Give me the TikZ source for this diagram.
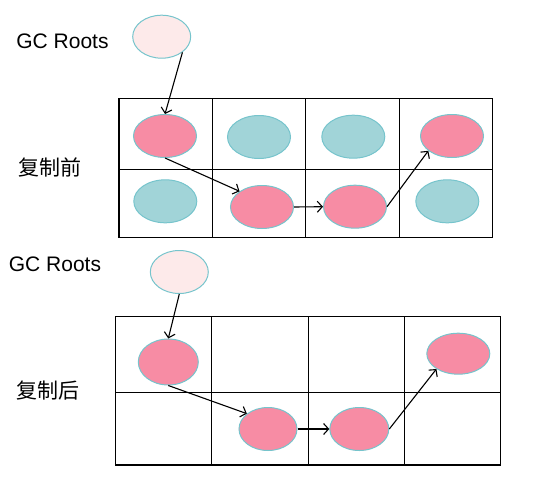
\documentclass[tikz,border=0pt]{standalone}
\usepackage{fontspec}
\setmainfont{Liberation Sans}
\newfontfamily\cjk{Noto Sans CJK SC}
\usetikzlibrary{shapes.geometric,arrows.meta}
\definecolor{livepink}{RGB}{247,140,164}
\definecolor{deadteal}{RGB}{161,212,216}
\definecolor{rootfill}{RGB}{253,234,234}
\definecolor{rim}{RGB}{118,196,204}
\begin{document}
\begin{tikzpicture}[
  x=1pt, y=-1pt,
  obj/.style={ellipse, draw=rim, line width=1pt, inner sep=0pt,
    minimum width=63pt, minimum height=43pt},
  live/.style={obj, fill=livepink},
  dead/.style={obj, fill=deadteal},
  root/.style={obj, fill=rootfill, minimum width=58pt},
  label/.style={font=\fontsize{21}{25}\selectfont},
  cell/.style={line width=1.2pt, line cap=rect},
  ref/.style={-{Straight Barb[length=5pt,width=11pt]}, line width=1.1pt},
]
  \useasboundingbox (0,0) rectangle (554,501);

  % before copying
  \foreach \x in {119,212.3,305.7,399.3,492.7}
    \draw[cell] (\x,98.3) -- (\x,237.3);
  \foreach \y in {98.3,169.3,237.3}
    \draw[cell] (119,\y) -- (492.7,\y);

  \node[label] (gc1) at (62.5,41) {GC Roots};
  \node[label] (before) at (50,167) {\cjk 复制前};
  \node[root] (r1) at (161.7,36.7) {};

  \node[live] (a1) at (165,136) {};
  \node[dead] (a2) at (259,137) {};
  \node[dead] (a3) at (353.3,136.7) {};
  \node[live] (a4) at (452,136) {};
  \node[dead] (b1) at (165.3,201.3) {};
  \node[live] (b2) at (262,207) {};
  \node[live] (b3) at (355,206.7) {};
  \node[dead] (b4) at (447.3,201.3) {};

  \draw[ref] (r1.-37) -- (a1.north);
  \draw[ref] (a1.south) -- (b2.145);
  \draw[ref] (b2.east) -- (b3.west);
  \draw[ref] (b3.east) -- (a4.-148);

  % after copying
  \foreach \x in {115.7,211.3,308.7,404.7,500.3}
    \draw[cell] (\x,316.3) -- (\x,465);
  \foreach \y in {316.3,392.3,465}
    \draw[cell] (115.7,\y) -- (500.3,\y);

  \node[label] (gc2) at (55,264) {GC Roots};
  \node[label] (after) at (48,391) {\cjk 复制后};
  \node[root] (r2) at (179.3,272) {};

  \node[live, minimum width=60pt, minimum height=46pt] (p1) at (168.3,362) {};
  \node[live, minimum width=58pt] (p2) at (268,429) {};
  \node[live, minimum width=59pt] (p3) at (359.3,429) {};
  \node[live, minimum height=41pt] (p4) at (458.3,353.7) {};

  \draw[ref] (r2.south) -- (p1.north);
  \draw[ref] (p1.south) -- (p2.144);
  \draw[ref] (p2.east) -- (p3.west);
  \draw[ref] (p3.east) -- (p4.-145);
\end{tikzpicture}
\end{document}
